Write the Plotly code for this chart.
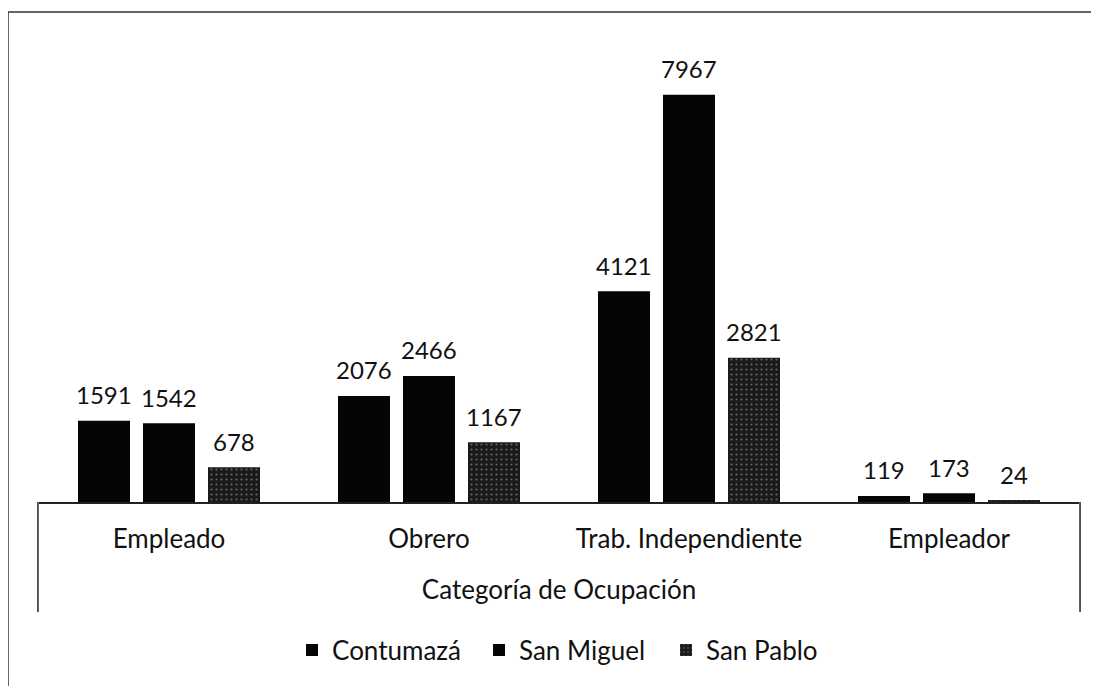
import plotly.graph_objects as go

categorias = ["Empleado", "Obrero", "Trab. Independiente", "Empleador"]
contumaza = [1591, 2076, 4121, 119]
san_miguel = [1542, 2466, 7967, 173]
san_pablo = [678, 1167, 2821, 24]

series = [
    ("Contumazá", contumaza),
    ("San Miguel", san_miguel),
    ("San Pablo", san_pablo),
]

# page body has an 8px margin, so the figure is a bit smaller than the window
W, H = 1091, 678
L, R, T, B = 31, 20, 34, 184
BARGAP = 0.25
FONT = "Lato, 'Open Sans', sans-serif"
FS = 26

fig = go.Figure()
for name, vals in series:
    if name == "San Pablo":
        marker = dict(color="#1e1e1e",
                      pattern=dict(shape=".", fgcolor="#b0b0b0", bgcolor="#1a1a1a",
                                   size=5, solidity=0.15))
    else:
        marker = dict(color="#050505")
    fig.add_trace(go.Bar(x=categorias, y=vals, name=name, marker=marker,
                         marker_line_width=0))

# value labels above each bar
plot_w = W - L - R
plot_h = H - T - B
cat_w = plot_w / len(categorias)
slot = cat_w * (1 - BARGAP) / len(series)
for i, (name, vals) in enumerate(series):
    dx = (i - (len(series) - 1) / 2) * slot
    for c, v in zip(categorias, vals):
        fig.add_annotation(x=c, y=v, text=str(v), showarrow=False,
                           xshift=dx, yshift=26, yanchor="middle",
                           font=dict(size=24, color="#111", family=FONT))

# outer frame and axis box (page coords: frame at x=8, y=12, axis box bottom y=612)
base_y = 8 + T + plot_h
fig.add_shape(type="rect", xref="paper", yref="paper",
              x0=(8 - 8 - L) / plot_w, x1=1.2, y0=-0.6,
              y1=(base_y - 12) / plot_h,
              line=dict(color="#333", width=1.5))
box_bottom = -(612 - base_y) / plot_h
for xp in (-0.001, 1.001):
    fig.add_shape(type="line", xref="paper", yref="paper",
                  x0=xp, x1=xp, y0=0, y1=box_bottom,
                  line=dict(color="#222", width=1.5))

fig.update_layout(
    width=W, height=H,
    margin=dict(l=L, r=R, t=T, b=B),
    paper_bgcolor="white", plot_bgcolor="white",
    barmode="group", bargap=BARGAP, bargroupgap=0.2,
    font=dict(family=FONT, size=FS, color="#111"),
    showlegend=True,
    legend=dict(orientation="h", x=0.513, xanchor="center",
                y=-(650 - base_y) / plot_h, yanchor="middle",
                font=dict(size=FS), itemwidth=30, entrywidth=142,
                tracegroupgap=0),
    xaxis=dict(showline=True, linecolor="#222", linewidth=2, ticks="",
               ticklabelstandoff=13, tickfont=dict(size=FS),
               title=dict(text="Categoría de Ocupación", standoff=28,
                          font=dict(size=FS))),
    yaxis=dict(range=[0, 9000], visible=False, showgrid=False),
)

fig.write_html("out.html")
